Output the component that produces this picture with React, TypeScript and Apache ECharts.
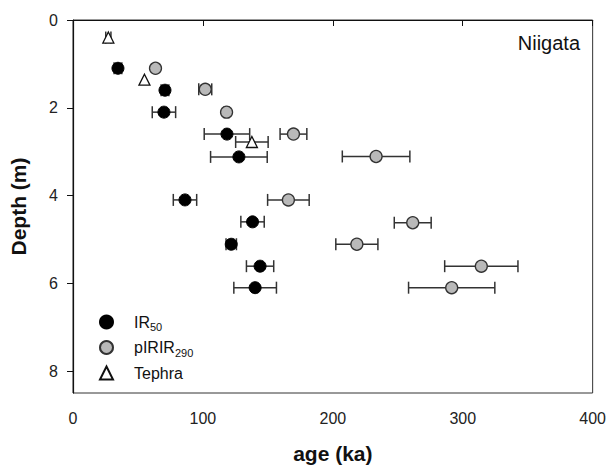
import React, { useEffect, useRef } from "react";
import * as echarts from "echarts";

const xTicks = [0, 100, 200, 300, 400];
const yTicks = [0, 2, 4, 6, 8];

const irDepth = [1.1, 1.6, 2.1, 2.6, 3.12, 4.1, 4.6, 5.11, 5.61, 6.1];
const irAge = [34.6, 70.8, 70, 118.5, 127.7, 86.2, 138.2, 121.8, 144, 140.2];
const irErr = [3, 3, 9, 17.5, 21.8, 9, 9, 4, 10.5, 16.4];

const pDepth = [1.1, 1.58, 2.1, 2.6, 3.11, 4.1, 4.62, 5.11, 5.61, 6.1];
const pAge = [63.5, 101.8, 118.2, 169.7, 233.3, 165.8, 261.5, 218.5, 314.3, 291.5];
const pErr = [0, 5, 2, 10.3, 26, 16, 14.2, 16.2, 28.2, 33.2];

const tDepth = [0.4, 1.36, 2.78];
const tAge = [27.2, 55, 137.7];
const tErr = [2, 0, 12.5];

const FONT = 'Arial, "Liberation Sans", sans-serif';

function errData(age: number[], err: number[], depth: number[]) {
  const out: number[][] = [];
  age.forEach((a, i) => {
    if (err[i] > 0) out.push([a - err[i], a + err[i], depth[i]]);
  });
  return out;
}

function errSeries(data: number[][]) {
  return {
    type: "custom",
    silent: true,
    z: 1,
    encode: { x: [0, 1], y: 2 },
    data,
    renderItem: (params: any, api: any) => {
      const y = api.value(2);
      const p1 = api.coord([api.value(0), y]);
      const p2 = api.coord([api.value(1), y]);
      const h = 6;
      const style = { stroke: "#333", lineWidth: 1.5 };
      return {
        type: "group",
        children: [
          { type: "line", shape: { x1: p1[0], y1: p1[1], x2: p2[0], y2: p2[1] }, style },
          { type: "line", shape: { x1: p1[0], y1: p1[1] - h, x2: p1[0], y2: p1[1] + h }, style },
          { type: "line", shape: { x1: p2[0], y1: p2[1] - h, x2: p2[0], y2: p2[1] + h }, style },
        ],
      };
    },
  };
}

export default function App() {
  const ref = useRef<HTMLDivElement>(null);
  useEffect(() => {
    if (!ref.current) return;
    const chart = echarts.init(ref.current, undefined, { renderer: "svg" });
    chart.setOption({
      animation: false,
      title: {
        text: "Niigata",
        right: 24,
        top: 28,
        textStyle: { fontFamily: FONT, fontSize: 20, fontWeight: "normal", color: "#111" },
      },
      grid: {
        left: 72,
        top: 20,
        right: 16,
        bottom: 74,
        show: true,
        borderColor: "#333",
        borderWidth: 1,
      },
      legend: {
        orient: "vertical",
        left: 94,
        top: 309,
        itemWidth: 13,
        itemHeight: 13,
        itemGap: 7,
        data: ["IR50", "pIRIR290", "Tephra"],
        formatter: (name: string) => {
          if (name === "IR50") return "{n|IR}{s|50}";
          if (name === "pIRIR290") return "{n|pIRIR}{s|290}";
          return "{n|" + name + "}";
        },
        textStyle: {
          fontFamily: FONT,
          color: "#111",
          padding: [0, 0, 0, 16],
          rich: {
            n: { fontFamily: FONT, fontSize: 16, color: "#111", lineHeight: 17 },
            s: { fontFamily: FONT, fontSize: 11, color: "#111", padding: [10, 0, 0, 0] },
          },
        },
      },
      xAxis: {
        type: "value",
        min: 0,
        max: 400,
        interval: 100,
        name: "age (ka)",
        nameLocation: "middle",
        nameGap: 50,
        nameTextStyle: { fontFamily: FONT, fontSize: 21, fontWeight: "bold", color: "#111" },
        axisLine: { show: true, lineStyle: { color: "#111", width: 1.2 } },
        axisTick: { show: true, length: 6, lineStyle: { color: "#111" } },
        axisLabel: {
          margin: 17,
          fontFamily: FONT,
          fontSize: 16,
          color: "#222",
          formatter: (v: number) => (xTicks.includes(v) ? String(v) : ""),
        },
        splitLine: { show: false },
      },
      yAxis: {
        type: "value",
        inverse: true,
        min: 0,
        max: 8.5,
        interval: 2,
        name: "Depth (m)",
        nameLocation: "middle",
        nameGap: 44,
        nameRotate: 90,
        nameTextStyle: { fontFamily: FONT, fontSize: 21, fontWeight: "bold", color: "#111" },
        axisLine: { show: true, lineStyle: { color: "#111", width: 1.2 } },
        axisTick: { show: true, length: 6, lineStyle: { color: "#111" }, customValues: yTicks },
        axisLabel: {
          margin: 15,
          fontFamily: FONT,
          fontSize: 16,
          color: "#222",
          customValues: yTicks,
          formatter: (v: number) => (yTicks.includes(v) ? String(v) : ""),
        },
        splitLine: { show: false },
      },
      series: [
        errSeries(errData(irAge, irErr, irDepth)),
        errSeries(errData(pAge, pErr, pDepth)),
        errSeries(errData(tAge, tErr, tDepth)),
        {
          name: "IR50",
          type: "scatter",
          z: 3,
          symbol: "circle",
          symbolSize: 12,
          itemStyle: { color: "#000", borderColor: "#000", borderWidth: 1, opacity: 1 },
          data: irAge.map((a, i) => [a, irDepth[i]]),
        },
        {
          name: "pIRIR290",
          type: "scatter",
          z: 3,
          symbol: "circle",
          symbolSize: 12,
          itemStyle: { color: "#b9b9b9", borderColor: "#333", borderWidth: 1.3, opacity: 1 },
          data: pAge.map((a, i) => [a, pDepth[i]]),
        },
        {
          name: "Tephra",
          type: "scatter",
          z: 3,
          symbol: "triangle",
          symbolSize: 11,
          itemStyle: { color: "#fff", borderColor: "#111", borderWidth: 1.3, opacity: 1 },
          data: tAge.map((a, i) => [a, tDepth[i]]),
        },
      ],
    });
    return () => chart.dispose();
  }, []);
  return (
    <div
      ref={ref}
      style={{ position: "absolute", left: 0, top: 0, width: 609, height: 469, background: "#fff" }}
    />
  );
}
